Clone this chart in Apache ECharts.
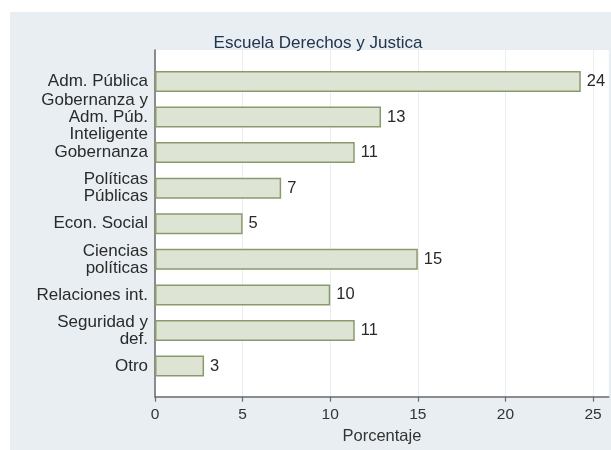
<!DOCTYPE html>
<html>
<head>
<meta charset="utf-8">
<script src="https://cdn.jsdelivr.net/npm/echarts@6/dist/echarts.min.js"></script>
<style>html,body{margin:0;padding:0;background:#fff;}#c{width:611px;height:450px;}</style>
</head>
<body>
<div id="c"></div>
<script>
const categories = ['Adm. Pública', 'Gobernanza y\nAdm. Púb.\nInteligente', 'Gobernanza', 'Políticas\nPúblicas', 'Econ. Social', 'Ciencias\npolíticas', 'Relaciones int.', 'Seguridad y\ndef.', 'Otro'];
const values = [24.3, 12.9, 11.4, 7.2, 5.0, 15.0, 10.0, 11.4, 2.8];
const xTicks = [0, 5, 10, 15, 20, 25];
const titleText = 'Escuela Derechos y Justica';
const xName = 'Porcentaje';

const FONT = '"Liberation Sans", Arial, sans-serif';
const chart = echarts.init(document.getElementById('c'), null, {renderer: 'canvas'});
chart.setOption({
  animation: false,
  backgroundColor: '#ffffff',
  graphic: [{
    type: 'rect', z: -10, silent: true,
    shape: {x: 10, y: 12, width: 601, height: 438},
    style: {fill: '#e8eef2'}
  }],
  title: {
    text: titleText,
    left: 313, top: 30, textAlign: 'center',
    textStyle: {fontFamily: FONT, fontSize: 17, fontWeight: 'normal', color: '#22344f'}
  },
  grid: [
    {left: 155, right: 2.2, top: 63.7, bottom: 66.2, containLabel: false},
    {left: 155, right: 2.2, top: 50, bottom: 53.3, show: true, backgroundColor: '#ffffff', borderWidth: 0, z: 0}
  ],
  xAxis: [
    {gridIndex: 0, type: 'value', min: 0, max: 25.9, show: false},
    {gridIndex: 1, type: 'value', min: 0, max: 25.9,
     name: xName, nameLocation: 'middle', nameGap: 26,
     nameTextStyle: {fontFamily: FONT, fontSize: 16.5, color: '#333'},
     axisLine: {show: true, onZero: false, lineStyle: {color: '#6a6a6a', width: 1.5}},
     axisTick: {show: true, length: 5, customValues: xTicks, lineStyle: {color: '#6a6a6a', width: 1.2}},
     axisLabel: {customValues: xTicks, margin: 10, fontFamily: FONT, fontSize: 15.5, color: '#333'},
     splitLine: {show: true, lineStyle: {color: '#e9eef0', width: 1}}
    }
  ],
  yAxis: [
    {gridIndex: 0, type: 'category', data: categories, inverse: true,
     axisLine: {show: false}, axisTick: {show: false},
     axisLabel: {margin: 7, fontFamily: FONT, fontSize: 17, lineHeight: 17, color: '#2a2a2a', align: 'right', interval: 0},
     splitLine: {show: false}
    },
    {gridIndex: 1, type: 'value', min: 0, max: 1,
     axisLine: {show: true, onZero: false, lineStyle: {color: '#6a6a6a', width: 1.5}},
     axisTick: {show: false}, axisLabel: {show: false}, splitLine: {show: false}
    }
  ],
  series: [{
    type: 'bar',
    xAxisIndex: 0, yAxisIndex: 0,
    data: values,
    barWidth: 21,
    z: 5,
    itemStyle: {color: '#dee4d4', borderColor: '#8b9a6c', borderWidth: 1.5},
    label: {
      show: true, position: 'right', distance: 6,
      formatter: p => Math.round(p.value),
      fontFamily: FONT, fontSize: 16.5, color: '#2a2a2a'
    }
  }]
});
</script>
</body>
</html>
